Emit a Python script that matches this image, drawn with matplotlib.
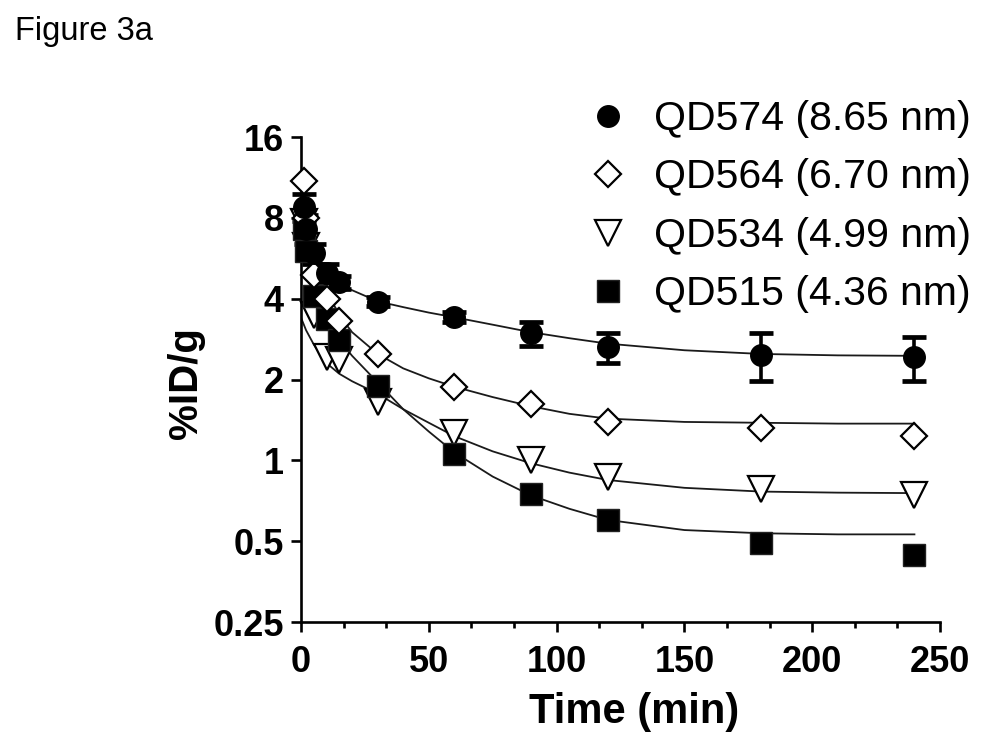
import matplotlib
matplotlib.use("Agg")
import matplotlib.pyplot as plt
from matplotlib.ticker import FixedLocator, FixedFormatter, MultipleLocator, NullLocator

plt.rcParams['font.family'] = ['Liberation Sans', 'DejaVu Sans']

# ---- data ----
time_min = [1, 2, 5, 10, 15, 30, 60, 90, 120, 180, 240]

qd574 = [8.8, 7.3, 5.9, 5.0, 4.6, 3.9, 3.42, 2.97, 2.64, 2.47, 2.43]
qd574_err = [1.0, 0.9, 0.5, 0.4, 0.25, 0.15, 0.15, 0.3, 0.33, 0.5, 0.45]
qd564 = [11.0, 8.0, 4.9, 4.0, 3.3, 2.49, 1.87, 1.62, 1.39, 1.32, 1.23]
qd534 = [7.7, 6.3, 3.47, 2.43, 2.36, 1.65, 1.26, 1.0, 0.868, 0.78, 0.745]
qd515 = [7.3, 6.0, 4.1, 3.35, 2.8, 1.89, 1.06, 0.75, 0.60, 0.494, 0.445]

# fitted curves
fit_t = [0, 2, 5, 10, 15, 20, 30, 40, 50, 60, 75, 90, 105, 120, 150, 180, 210, 240]
fit_574 = [9.3, 7.5, 6.0, 5.0, 4.57, 4.3, 3.91, 3.72, 3.55, 3.41, 3.2, 3.0, 2.85, 2.72, 2.57, 2.49, 2.46, 2.45]
fit_564 = [11.2, 8.6, 6.1, 4.3, 3.46, 3.0, 2.49, 2.2, 2.02, 1.88, 1.72, 1.59, 1.49, 1.43, 1.39, 1.38, 1.37, 1.37]
fit_534 = [3.4, 3.05, 2.7, 2.3, 2.1, 1.97, 1.77, 1.55, 1.38, 1.23, 1.08, 0.975, 0.9, 0.845, 0.79, 0.765, 0.758, 0.755]
fit_515 = [7.8, 6.2, 4.4, 3.35, 2.8, 2.45, 1.95, 1.55, 1.28, 1.07, 0.87, 0.74, 0.66, 0.60, 0.55, 0.535, 0.53, 0.53]

labels = ["QD574 (8.65 nm)", "QD564 (6.70 nm)", "QD534 (4.99 nm)", "QD515 (4.36 nm)"]
y_ticks = [0.25, 0.5, 1, 2, 4, 8, 16]
y_ticklabels = ["0.25", "0.5", "1", "2", "4", "8", "16"]
x_ticks = [0, 50, 100, 150, 200, 250]

# ---- figure ----
W, H = 987, 750
fig = plt.figure(figsize=(W / 100, H / 100), dpi=100)
ax = fig.add_axes([301 / W, 1 - 622 / H, (940 - 301) / W, (622 - 137) / H])

ax.set_yscale('log', base=2)
ax.set_ylim(0.25, 16)
ax.set_xlim(0, 250)

line_kw = dict(color='#1a1a1a', lw=1.3, zorder=2)
ax.plot(fit_t, fit_574, **line_kw)
ax.plot(fit_t, fit_564, **line_kw)
ax.plot(fit_t, fit_534, **line_kw)
ax.plot(fit_t, fit_515, **line_kw)

ax.errorbar(time_min, qd574, yerr=qd574_err, fmt='none', ecolor='black',
            elinewidth=2.6, capsize=8.5, capthick=3.4, zorder=3, clip_on=False)

h1, = ax.plot(time_min, qd574, 'o', ms=15.5, color='black', mec='black',
              zorder=6, clip_on=False, label=labels[0])
h2, = ax.plot(time_min, qd564, 'D', ms=13, mfc='white', mec='black', mew=1.6,
              zorder=5, clip_on=False, label=labels[1])
h3, = ax.plot(time_min, qd534, 'v', ms=18.5, mfc='white', mec='black', mew=1.6,
              zorder=4, clip_on=False, label=labels[2])
h4, = ax.plot(time_min, qd515, 's', ms=15.5, color='black', mec='#222222',
              zorder=4.5, clip_on=False, label=labels[3])

# axes styling
for s in ['top', 'right']:
    ax.spines[s].set_visible(False)
for s in ['left', 'bottom']:
    ax.spines[s].set_linewidth(1.9)

ax.yaxis.set_major_locator(FixedLocator(y_ticks))
ax.yaxis.set_major_formatter(FixedFormatter(y_ticklabels))
ax.yaxis.set_minor_locator(NullLocator())
ax.xaxis.set_major_locator(FixedLocator(x_ticks))
ax.xaxis.set_minor_locator(MultipleLocator(50 / 3))

ax.tick_params(axis='both', which='major', direction='out', length=7.5, width=1.9,
               labelsize=26, pad=5)
ax.tick_params(axis='x', which='major', pad=9)
ax.tick_params(axis='x', which='minor', direction='out', length=4.5, width=1.9)
for lab in ax.get_xticklabels() + ax.get_yticklabels():
    lab.set_fontweight('bold')

ax.set_xlabel("Time (min)", fontsize=30, fontweight='bold')
ax.xaxis.set_label_coords((634 - 301) / 639, -(692 - 622) / 485)
ax.set_ylabel("%ID/g", fontsize=29, fontweight='bold')
ax.yaxis.set_label_coords(-(301 - 205) / 639, (622 - 383) / 485)

fig.text(15 / W, 1 - 40 / H, "Figure 3a", fontsize=23.5, ha='left', va='baseline')

leg = ax.legend(handles=[h1, h2, h3, h4], loc='upper left',
                bbox_to_anchor=(588 / W, 1 - 100 / H), bbox_transform=fig.transFigure,
                frameon=False, fontsize=29.5, handlelength=1.0, handletextpad=0.62,
                labelspacing=0.5, borderpad=0, borderaxespad=0, numpoints=1)

fig.savefig("out.png", dpi=100)
